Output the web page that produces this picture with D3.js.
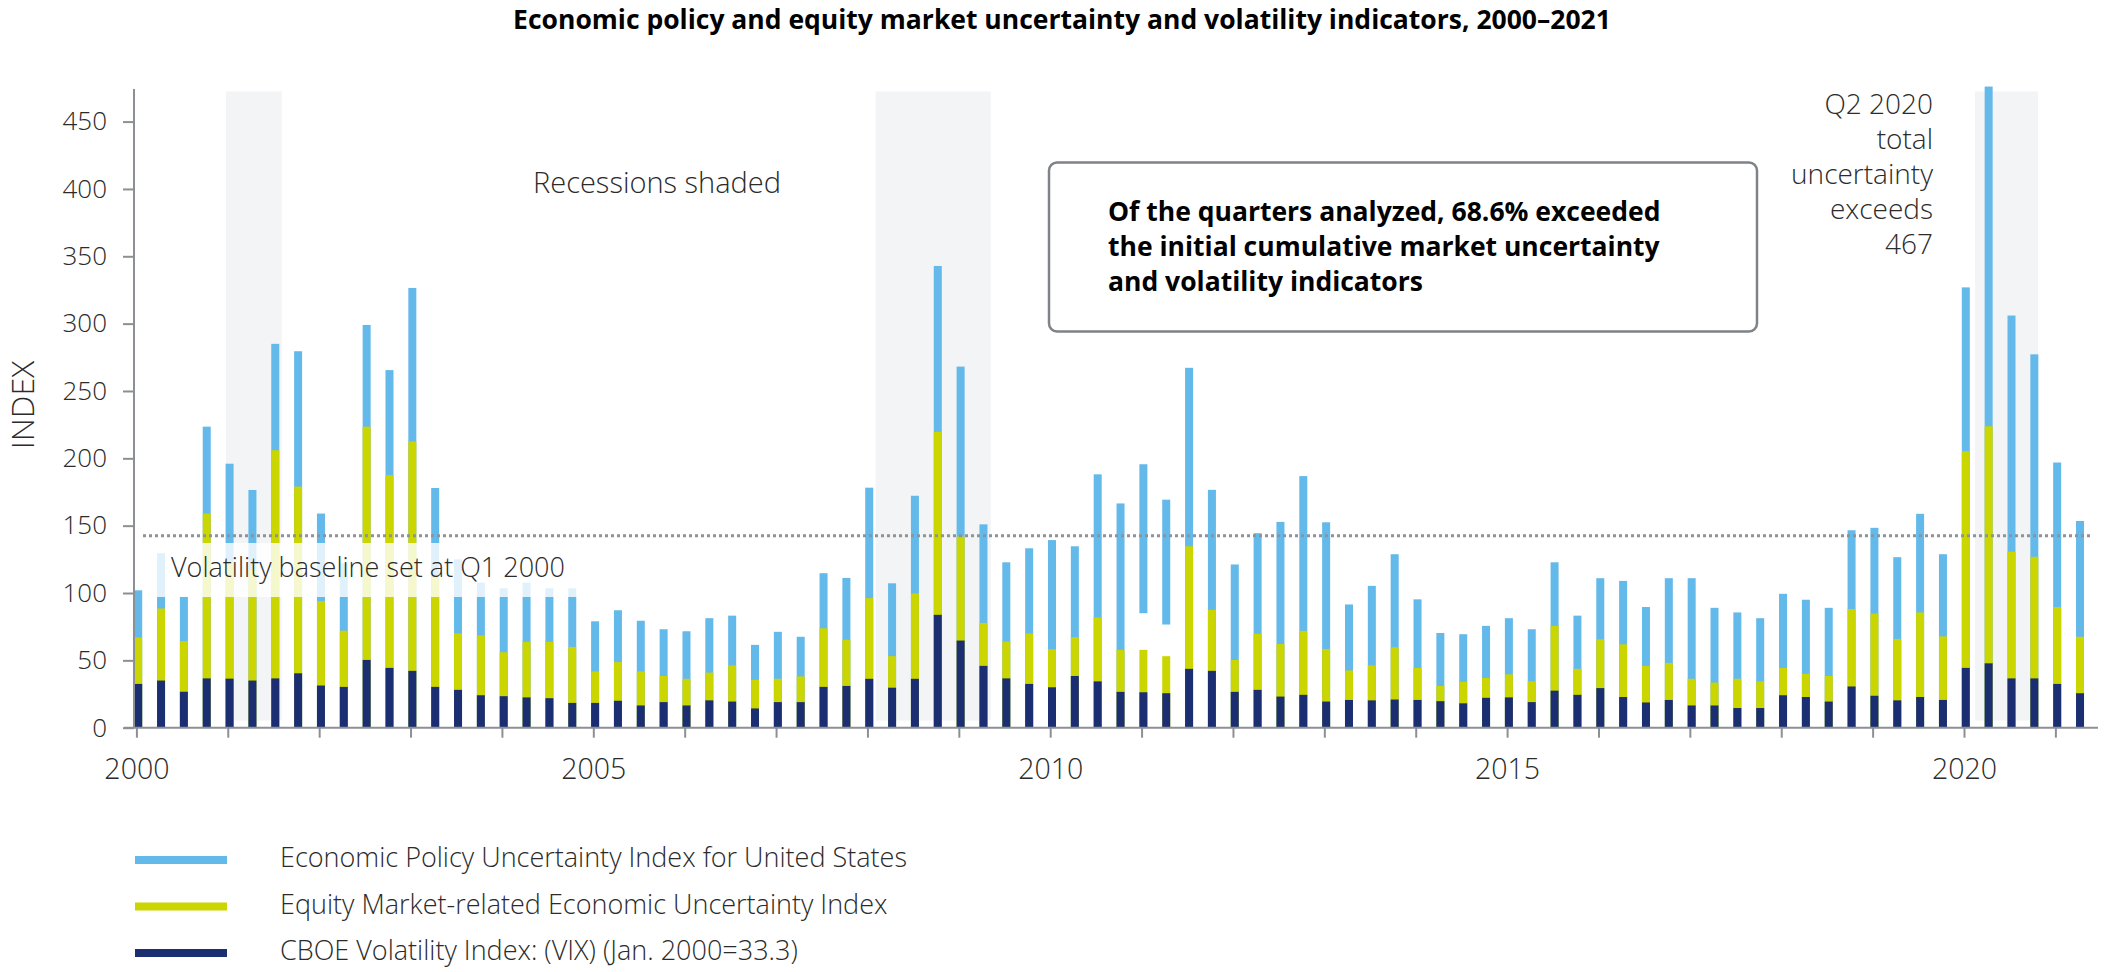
<!DOCTYPE html>
<html>
<head>
<meta charset="utf-8">
<script src="https://cdn.jsdelivr.net/npm/d3@7/dist/d3.min.js"></script>
<style>
  html, body { margin: 0; padding: 0; background: #fff; }
  svg { display: block; font-family: "Open Sans", "Noto Sans", sans-serif; }
</style>
</head>
<body>
<svg id="chart" width="2111" height="972"></svg>
<script>
// Quarterly categories, Q1 2000 – Q2 2021
const quarters = [
  "2000Q1","2000Q2","2000Q3","2000Q4","2001Q1","2001Q2","2001Q3","2001Q4",
  "2002Q1","2002Q2","2002Q3","2002Q4","2003Q1","2003Q2","2003Q3","2003Q4",
  "2004Q1","2004Q2","2004Q3","2004Q4","2005Q1","2005Q2","2005Q3","2005Q4",
  "2006Q1","2006Q2","2006Q3","2006Q4","2007Q1","2007Q2","2007Q3","2007Q4",
  "2008Q1","2008Q2","2008Q3","2008Q4","2009Q1","2009Q2","2009Q3","2009Q4",
  "2010Q1","2010Q2","2010Q3","2010Q4","2011Q1","2011Q2","2011Q3","2011Q4",
  "2012Q1","2012Q2","2012Q3","2012Q4","2013Q1","2013Q2","2013Q3","2013Q4",
  "2014Q1","2014Q2","2014Q3","2014Q4","2015Q1","2015Q2","2015Q3","2015Q4",
  "2016Q1","2016Q2","2016Q3","2016Q4","2017Q1","2017Q2","2017Q3","2017Q4",
  "2018Q1","2018Q2","2018Q3","2018Q4","2019Q1","2019Q2","2019Q3","2019Q4",
  "2020Q1","2020Q2","2020Q3","2020Q4","2021Q1","2021Q2"
];

// Economic Policy Uncertainty Index for United States (bar top)
const epu = [
  102, 129.5, 97.3, 223.5, 196, 176.5, 285, 279.5,
  159, 122, 299, 265.5, 326.5, 178, 125, 107.7,
  103.5, 107.7, 103.5, 103.5, 79, 87.2, 79.4, 73.1,
  71.6, 81.3, 83.2, 61.5, 71.2, 67.5, 114.7, 111.2,
  178.2, 107.2, 172.2, 342.8, 268.1, 151, 122.8, 133.2,
  139.3, 134.7, 188.1, 166.5, 195.6, 169.3, 267.2, 176.6,
  121.2, 144.4, 152.8, 186.8, 152.5, 91.5, 105.3, 128.8,
  95.3, 70.3, 69.4, 75.6, 81.3, 73.1, 122.8, 83.2,
  111, 109, 89.6, 111, 111, 89, 85.6, 81.3,
  99.4, 95, 89, 146.6, 148.4, 126.6, 158.8, 128.8,
  326.9, 476, 306, 277.2, 196.9, 153.5
];

// Equity Market-related Economic Uncertainty Index (bar top)
const emu = [
  67, 88.5, 64.3, 159, 124, 117, 206, 179,
  94, 72, 223.5, 187.5, 212.5, 112, 70, 68.5,
  56, 63.8, 63.8, 60, 41.8, 48.7, 41.8, 38.4,
  36.3, 40.9, 46.2, 35.6, 36.3, 38.1, 73.8, 65.3,
  96.2, 53.1, 99.7, 219.7, 141.9, 77.8, 64, 70,
  58.2, 67.2, 81.9, 57.8, 57.8, 53.1, 134.7, 87.5,
  50.3, 69.7, 62.1, 71.9, 58.5, 42.5, 46.2, 59.7,
  44.4, 31, 34.1, 36.9, 39.6, 34.4, 75.6, 43.7,
  65.6, 61.9, 45.9, 48.1, 36.3, 33.5, 36.3, 34.4,
  44.4, 40, 38.4, 88.1, 84.7, 65.9, 85.6, 67.8,
  205.3, 223.8, 130.7, 126.9, 89.6, 67.5
];

// CBOE Volatility Index (VIX) (bar top)
const vix = [
  32.5, 35, 26.7, 36.6, 36.4, 35, 36.6, 40.4,
  31.3, 30.3, 50.3, 44.4, 42.2, 30.3, 28.1, 24.1,
  23.4, 22.5, 21.9, 18.4, 18.4, 20, 16.5, 19,
  16.5, 20.3, 19.4, 14.3, 19, 19, 30.3, 31,
  36.3, 29.7, 36.3, 83.8, 64.7, 45.9, 36.6, 32.5,
  30, 38.4, 34.4, 26.6, 26.3, 25.6, 43.7, 42.2,
  26.6, 28.1, 23.1, 24.4, 19.4, 20.6, 20.3, 20.9,
  20.6, 19.7, 18.1, 22.2, 22.5, 19, 27.5, 24.4,
  29.4, 22.8, 18.7, 20.6, 16.5, 16.5, 14.6, 14.6,
  24.1, 22.8, 19.4, 30.6, 23.7, 20.3, 22.8, 20.6,
  44.4, 47.8, 36.6, 36.6, 32.5, 25.6
];

// Quarters where the policy-uncertainty segment does not reach down to the equity segment
const epuGapQuarters = ["2011Q1", "2011Q2"];
const epuGapFloors = [85, 76.6];

// Recession periods (decimal years)
const recessionStarts = [2000.98, 2008.09, 2020.12];
const recessionEnds = [2001.59, 2009.35, 2020.81];

const yTicks = [0, 50, 100, 150, 200, 250, 300, 350, 400, 450];
const xTickYears = [2000,2001,2002,2003,2004,2005,2006,2007,2008,2009,2010,
                    2011,2012,2013,2014,2015,2016,2017,2018,2019,2020,2021];
const xLabelYears = [2000, 2005, 2010, 2015, 2020];

const baselineValue = 142.5;

const seriesNames = [
  "Economic Policy Uncertainty Index for United States",
  "Equity Market-related Economic Uncertainty Index",
  "CBOE Volatility Index: (VIX) (Jan. 2000=33.3)"
];
const seriesColors = ["#63b9e9", "#cbd500", "#1b2e72"];

// ---------------------------------------------------------------
const svg = d3.select("#chart");
const textColor = "#2b2b2b";
const axisColor = "#8c8f93";

const plotTop = 89, plotBottom = 727.7;
const y = d3.scaleLinear().domain([0, 474.2]).range([plotBottom, plotTop]);
const x = d3.scaleLinear().domain([2000, 2020]).range([136.4, 1964]);
const barW = 8;

const qYear = q => +q.slice(0, 4) + (+q.slice(5) - 1) / 4;
const barLeft = q => x(qYear(q)) - barW / 2 + 1.8;

const rows = quarters.map((q, i) => {
  const gi = epuGapQuarters.indexOf(q);
  return { q, epu: epu[i], emu: emu[i], vix: vix[i],
           epuFloor: gi >= 0 ? epuGapFloors[gi] : 0 };
});

// Title
svg.append("text")
  .attr("x", 1062).attr("y", 29)
  .attr("text-anchor", "middle")
  .attr("font-size", 26.5).attr("font-weight", 700).attr("fill", "#000")
  .text("Economic policy and equity market uncertainty and volatility indicators, 2000–2021");

// Recession shading
svg.append("g").selectAll("rect")
  .data(recessionStarts.map((s, i) => [s, recessionEnds[i]]))
  .join("rect")
  .attr("x", d => x(d[0]))
  .attr("width", d => x(d[1]) - x(d[0]))
  .attr("y", plotTop + 2.4)
  .attr("height", (plotBottom - 7.2) - (plotTop + 2.4))
  .attr("fill", "#f3f4f6");

// Bars: policy uncertainty behind, equity uncertainty, VIX in front
const bars = svg.append("g");
bars.selectAll("rect.epu").data(rows).join("rect").attr("class", "epu")
  .attr("x", d => barLeft(d.q)).attr("width", barW)
  .attr("y", d => y(d.epu)).attr("height", d => y(d.epuFloor) - y(d.epu))
  .attr("fill", seriesColors[0]);
bars.selectAll("rect.emu").data(rows).join("rect").attr("class", "emu")
  .attr("x", d => barLeft(d.q)).attr("width", barW)
  .attr("y", d => y(d.emu)).attr("height", d => y(0) - y(d.emu))
  .attr("fill", seriesColors[1]);
bars.selectAll("rect.vix").data(rows).join("rect").attr("class", "vix")
  .attr("x", d => barLeft(d.q)).attr("width", barW)
  .attr("y", d => y(d.vix)).attr("height", d => y(0) - y(d.vix))
  .attr("fill", seriesColors[2]);

// Baseline (dotted)
svg.append("line")
  .attr("x1", 143).attr("x2", 2091)
  .attr("y1", y(baselineValue)).attr("y2", y(baselineValue))
  .attr("stroke", "#8f9296").attr("stroke-width", 3)
  .attr("stroke-dasharray", "3,3");

// Baseline label on a translucent panel
svg.append("rect")
  .attr("x", 150).attr("y", 543).attr("width", 432).attr("height", 54)
  .attr("fill", "#fff").attr("fill-opacity", 0.8);
svg.append("text")
  .attr("x", 171).attr("y", 577)
  .attr("font-size", 27).attr("font-weight", 300).attr("fill", textColor)
  .text("Volatility baseline set at Q1 2000");

// Y axis
const yAxis = svg.append("g").attr("transform", "translate(134,0)")
  .call(d3.axisLeft(y).tickValues(yTicks).tickSize(11).tickPadding(16));
yAxis.select(".domain").attr("d", `M0,${plotTop}V${plotBottom}`);
yAxis.selectAll("path, line").attr("stroke", axisColor).attr("stroke-width", 2);
yAxis.selectAll("text").attr("font-size", 26).attr("font-weight", 300)
  .attr("fill", textColor).attr("font-family", "Open Sans");

svg.append("text")
  .attr("transform", "translate(34,405) rotate(-90)")
  .attr("text-anchor", "middle")
  .attr("font-size", 32).attr("font-weight", 300).attr("fill", textColor)
  .text("INDEX");

// X axis
const xAxis = svg.append("g").attr("transform", `translate(0,${plotBottom})`)
  .call(d3.axisBottom(x).tickValues(xTickYears).tickSize(10)
        .tickFormat(d => xLabelYears.includes(d) ? d3.format("d")(d) : ""));
xAxis.select(".domain").attr("d", "M124,0H2098");
xAxis.selectAll("path, line").attr("stroke", axisColor).attr("stroke-width", 2);
xAxis.selectAll("text").attr("font-size", 28.5).attr("font-weight", 300)
  .attr("fill", textColor).attr("font-family", "Open Sans")
  .attr("dy", null).attr("y", 51);

// Annotations
svg.append("text")
  .attr("x", 533).attr("y", 193)
  .attr("font-size", 29).attr("font-weight", 300).attr("fill", textColor)
  .text("Recessions shaded");

svg.append("rect")
  .attr("x", 1049).attr("y", 162.5).attr("width", 708).attr("height", 169)
  .attr("rx", 8).attr("fill", "#fff")
  .attr("stroke", "#7f8286").attr("stroke-width", 2.5);
const boxLines = ["Of the quarters analyzed, 68.6% exceeded",
                  "the initial cumulative market uncertainty",
                  "and volatility indicators"];
svg.append("text")
  .attr("font-size", 26.5).attr("font-weight", 700).attr("fill", "#000")
  .selectAll("tspan").data(boxLines).join("tspan")
  .attr("x", 1108).attr("y", (d, i) => 221 + i * 35)
  .text(d => d);

const peakLines = ["Q2 2020", "total", "uncertainty", "exceeds", "467"];
svg.append("text")
  .attr("text-anchor", "end")
  .attr("font-size", 28).attr("font-weight", 300).attr("fill", textColor)
  .selectAll("tspan").data(peakLines).join("tspan")
  .attr("x", 1933).attr("y", (d, i) => 113.5 + i * 35.1)
  .text(d => d);

// Legend
const legend = svg.append("g");
const legendRows = legend.selectAll("g").data(seriesNames).join("g")
  .attr("transform", (d, i) => `translate(0,${867 + i * 46.5})`);
legendRows.append("rect")
  .attr("x", 135).attr("y", -11).attr("width", 92).attr("height", 8)
  .attr("fill", (d, i) => seriesColors[i]);
legendRows.append("text")
  .attr("x", 280).attr("y", 0)
  .attr("font-size", 27).attr("font-weight", 300).attr("fill", textColor)
  .text(d => d);
</script>
</body>
</html>
